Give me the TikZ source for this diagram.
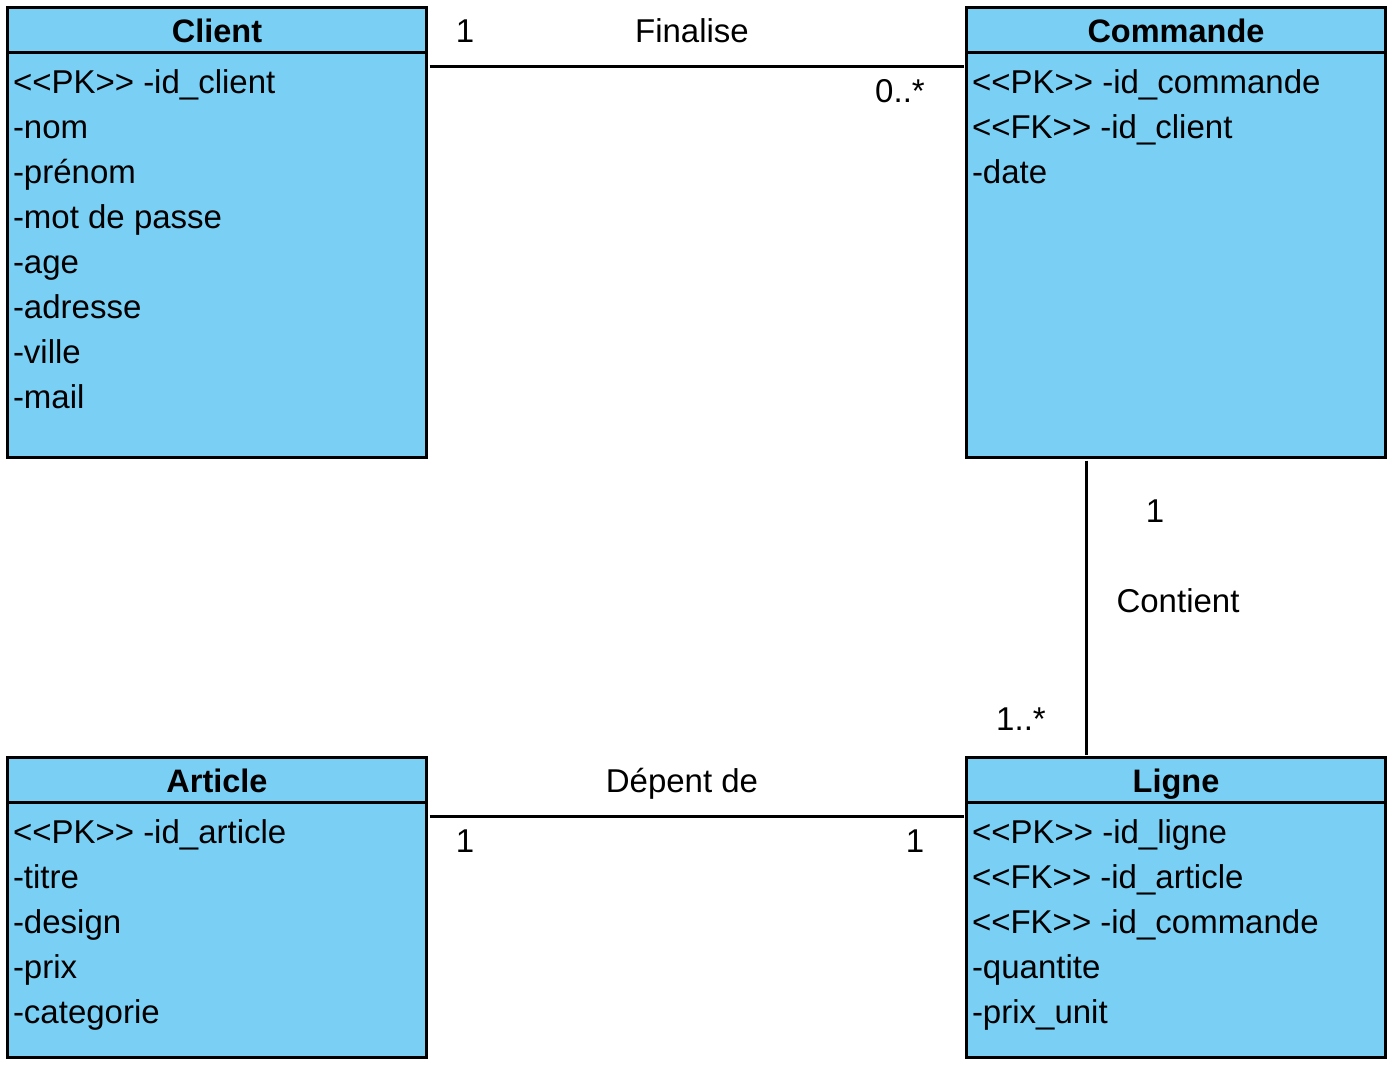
\documentclass[tikz,border=0pt]{standalone}
\usepackage{fontspec}
\setmainfont{Liberation Sans}
\usetikzlibrary{positioning}
\definecolor{classblue}{HTML}{79CFF4}

\begin{document}
\begin{tikzpicture}[
    x=1pt,
    y=-1pt,
    line width=3pt,
    font=\fontsize{33}{38}\selectfont,
    outer sep=0pt,
    classhead/.style={draw,fill=classblue,minimum width=419pt,minimum height=45pt,
        inner sep=0pt,anchor=north west,text height=30pt,text depth=5pt,
        font=\fontsize{32.5}{38}\selectfont\bfseries},
    classbody/.style={draw,fill=classblue,minimum width=419pt,inner sep=0pt,anchor=north},
    attr/.style={anchor=base west,inner sep=0pt},
    lbl/.style={anchor=base,inner sep=0pt}
]
    \useasboundingbox (0,0) rectangle (1398,1068);

    % classes
    \node[classhead] (clienthead) at (7.5,7.5) {Client};
    \node[classbody,minimum height=405pt] (clientbody) at (clienthead.south) {};
    \node[classhead] (commandehead) at (966.5,7.5) {Commande};
    \node[classbody,minimum height=405pt] (commandebody) at (commandehead.south) {};
    \node[classhead] (articlehead) at (7.5,757.5) {Article};
    \node[classbody,minimum height=255pt] (articlebody) at (articlehead.south) {};
    \node[classhead] (lignehead) at (966.5,757.5) {Ligne};
    \node[classbody,minimum height=255pt] (lignebody) at (lignehead.south) {};

    % attributes
    \foreach \txt [count=\i] in {{<{}<PK>{}> -id\_client},-nom,-prénom,-mot de passe,-age,-adresse,-ville,-mail}
        \node[attr] (client\i) at (13,48+45*\i) {\txt};
    \foreach \txt [count=\i] in {{<{}<PK>{}> -id\_commande},{<{}<FK>{}> -id\_client},-date}
        \node[attr] (commande\i) at (972,48+45*\i) {\txt};
    \foreach \txt [count=\i] in {{<{}<PK>{}> -id\_article},-titre,-design,-prix,-categorie}
        \node[attr] (article\i) at (13,798+45*\i) {\txt};
    \foreach \txt [count=\i] in {{<{}<PK>{}> -id\_ligne},{<{}<FK>{}> -id\_article},{<{}<FK>{}> -id\_commande},-quantite,-prix\_unit}
        \node[attr] (ligne\i) at (972,798+45*\i) {\txt};

    % associations
    \draw ([xshift=3pt,yshift=-14pt]clientbody.north east) -- ([xshift=-3pt,yshift=-14pt]commandebody.north west);
    \draw ([xshift=120pt,yshift=-3pt]commandebody.south west) -- ([xshift=120pt,yshift=3pt]lignehead.north west);
    \draw ([xshift=3pt,yshift=-14pt]articlebody.north east) -- ([xshift=-3pt,yshift=-14pt]lignebody.north west);

    \node[lbl] (finalise1) at (465,42.5) {1};
    \node[lbl] (finalise) at (692,42.5) {Finalise};
    \node[lbl] (finalise2) at (900,102.5) {0..*};
    \node[lbl] (contient1) at (1155,522.5) {1};
    \node[lbl] (contient) at (1178,612.5) {Contient};
    \node[lbl] (contient2) at (1021,730.5) {1..*};
    \node[lbl] (depent) at (682,792.5) {Dépent de};
    \node[lbl] (depent1) at (465,852.5) {1};
    \node[lbl] (depent2) at (915,852.5) {1};
\end{tikzpicture}
\end{document}
